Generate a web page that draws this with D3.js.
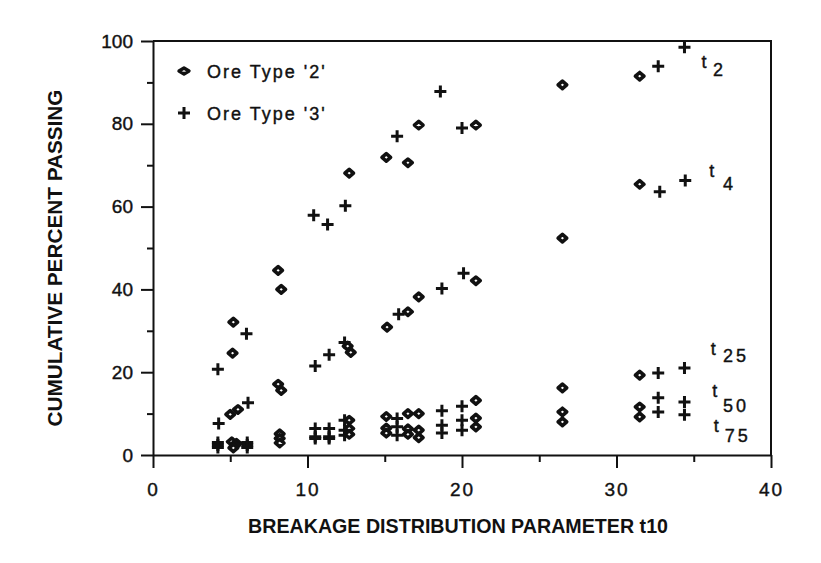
<!DOCTYPE html>
<html>
<head>
<meta charset="utf-8">
<script src="https://cdn.jsdelivr.net/npm/d3@7"></script>
<style>
  body { margin: 0; background: #fff; }
  svg { display: block; font-family: "Liberation Sans", Arial, Helvetica, sans-serif; }
  .axis path, .axis line { stroke: #111; stroke-width: 2; }
  .axis text { font-size: 19px; fill: #111; stroke: #111; stroke-width: 0.4; }
</style>
</head>
<body>
<div id="container"></div>
<script>
/* CONSTANTS AND GLOBALS */
const width = 821,
  height = 563,
  margin = {top: 41, bottom: 108, left: 153, right: 50};

/* DATA : [t10, cumulative % passing] */
// ore type '2' (diamonds)
const ore2_t2  = [[5.2,32.1],[5.15,24.6],[8.1,44.6],[8.3,40.0],[12.7,68.1],[15.1,71.9],[16.5,70.6],[17.2,79.7],[20.9,79.7],[26.5,89.4],[31.5,91.5]];
const ore2_t4  = [[5.5,11.0],[5.0,9.8],[8.1,17.1],[8.3,15.6],[12.6,26.3],[12.8,24.8],[15.15,30.9],[16.5,34.6],[17.2,38.2],[20.9,42.1],[26.5,52.4],[31.5,65.4]];
const ore2_t25 = [[5.1,3.2],[5.4,2.8],[8.2,5.1],[12.7,8.4],[15.1,9.3],[16.5,10.0],[17.2,10.0],[20.9,13.2],[26.5,16.2],[31.5,19.3]];
const ore2_t50 = [[5.3,2.3],[8.2,4.0],[12.7,6.4],[15.1,6.5],[16.5,6.3],[17.2,6.0],[20.9,8.9],[26.5,10.4],[31.5,11.6]];
const ore2_t75 = [[5.2,1.7],[8.2,2.9],[12.7,5.0],[15.1,5.3],[16.5,5.0],[17.2,4.2],[20.9,6.8],[26.5,8.0],[31.5,9.2]];

// ore type '3' (crosses)
const ore3_t2  = [[4.2,20.7],[6.05,29.3],[10.4,57.9],[11.3,55.7],[12.45,60.2],[15.8,77.0],[18.6,87.8],[20.0,79.0],[32.7,93.9],[34.4,98.5]];
const ore3_t4  = [[4.25,7.6],[6.15,12.6],[10.5,21.5],[11.4,24.2],[12.4,27.2],[15.9,34.0],[18.7,40.2],[20.1,43.9],[32.8,63.6],[34.45,66.3]];
const ore3_t25 = [[4.2,3.0],[6.1,3.0],[10.5,6.4],[11.4,6.4],[12.4,8.4],[15.8,8.8],[18.7,10.7],[20.0,11.8],[32.7,19.8],[34.4,21.0]];
const ore3_t50 = [[4.2,2.4],[6.1,2.4],[10.5,4.4],[11.4,4.4],[12.4,6.0],[15.8,6.8],[18.7,7.2],[20.0,8.4],[32.7,13.8],[34.4,12.8]];
const ore3_t75 = [[4.2,1.8],[6.1,1.8],[10.5,4.0],[11.4,4.0],[12.4,4.8],[15.8,4.8],[18.7,5.3],[20.0,6.0],[32.7,10.4],[34.4,9.7]];

const xTicks = [0, 10, 20, 30, 40];
const xMinor = [5, 15, 25, 35];
const yTicks = [0, 20, 40, 60, 80, 100];
const yMinor = [10, 30, 50, 70, 90];

const legendLabels = ["Ore Type '2'", "Ore Type '3'"];
// series tags drawn at the right of each curve: t position, number position (data units)
const seriesTags = [
  {num: "2",  t: [35.5, 93.5], n: [36.25, 91.5]},
  {num: "4",  t: [36.0, 67.1], n: [36.9, 64.0]},
  {num: "25", t: [36.1, 24.2], n: [36.9, 22.5]},
  {num: "50", t: [36.2, 14.0], n: [36.9, 10.4]},
  {num: "75", t: [36.3, 5.6],  n: [37.0, 3.1]}
];

const ore2 = [].concat(ore2_t2, ore2_t4, ore2_t25, ore2_t50, ore2_t75);
const ore3 = [].concat(ore3_t2, ore3_t4, ore3_t25, ore3_t50, ore3_t75);

/* SCALES */
const xScale = d3.scaleLinear()
  .domain([0, 40])
  .range([margin.left, width - margin.right]);

const yScale = d3.scaleLinear()
  .domain([0, 100])
  .range([height - margin.bottom, margin.top]);

const diamond = "M0,-3.7L4.3,0L0,3.7L-4.3,0Z";
const cross = "M-6,0H6M0,-6V6";

/* HTML ELEMENTS */
const svg = d3.select("#container")
  .append("svg")
  .attr("width", width)
  .attr("height", height);

// frame top + right
svg.append("path")
  .attr("d", `M${xScale(0)},${yScale(100)}H${xScale(40)}V${yScale(0)}`)
  .attr("fill", "none")
  .attr("stroke", "#111")
  .attr("stroke-width", 2);

// axes
svg.append("g")
  .attr("class", "axis")
  .attr("transform", `translate(0,${yScale(0)})`)
  .call(d3.axisBottom(xScale).tickValues(xTicks).tickSize(13).tickPadding(15).tickSizeOuter(0))
  .selectAll("text").attr("letter-spacing", "2px");

svg.append("g")
  .attr("class", "axis")
  .attr("transform", `translate(0,${yScale(0)})`)
  .call(d3.axisBottom(xScale).tickValues(xMinor).tickSize(7).tickFormat(""))
  .select(".domain").remove();

svg.append("g")
  .attr("class", "axis")
  .attr("transform", `translate(${xScale(0)},0)`)
  .call(d3.axisLeft(yScale).tickValues(yTicks).tickSize(12).tickPadding(8).tickSizeOuter(0));

svg.append("g")
  .attr("class", "axis")
  .attr("transform", `translate(${xScale(0)},0)`)
  .call(d3.axisLeft(yScale).tickValues(yMinor).tickSize(6).tickFormat(""))
  .select(".domain").remove();

// axis titles
svg.append("text")
  .attr("x", 458)
  .attr("y", 533)
  .attr("text-anchor", "middle")
  .attr("font-size", 20)
  .attr("font-weight", "bold")
  .attr("textLength", 420)
  .attr("lengthAdjust", "spacingAndGlyphs")
  .attr("fill", "#111")
  .text("BREAKAGE DISTRIBUTION PARAMETER t10");

svg.append("text")
  .attr("transform", "translate(62,258) rotate(-90)")
  .attr("text-anchor", "middle")
  .attr("font-size", 20)
  .attr("font-weight", "bold")
  .attr("textLength", 337)
  .attr("lengthAdjust", "spacingAndGlyphs")
  .attr("fill", "#111")
  .text("CUMULATIVE PERCENT PASSING");

// points
svg.selectAll(".ore3")
  .data(ore3)
  .join("path")
  .attr("class", "ore3")
  .attr("d", cross)
  .attr("transform", d => `translate(${xScale(d[0])},${yScale(d[1])})`)
  .attr("stroke", "#111")
  .attr("stroke-width", 3)
  .attr("fill", "none");

svg.selectAll(".ore2")
  .data(ore2)
  .join("path")
  .attr("class", "ore2")
  .attr("d", diamond)
  .attr("transform", d => `translate(${xScale(d[0])},${yScale(d[1])})`)
  .attr("stroke", "#111")
  .attr("stroke-width", 3.6)
  .attr("stroke-linejoin", "round")
  .attr("fill", "#fff");

// legend
const legend = svg.append("g").attr("transform", "translate(184,71)");
legend.append("path")
  .attr("d", "M0,-3L5,0L0,3L-5,0Z")
  .attr("stroke", "#111").attr("stroke-width", 3.4)
  .attr("stroke-linejoin", "round").attr("fill", "#fff");
legend.append("path")
  .attr("d", cross)
  .attr("transform", "translate(0,42)")
  .attr("stroke", "#111").attr("stroke-width", 3);
legend.selectAll("text")
  .data(legendLabels)
  .join("text")
  .attr("x", 23)
  .attr("y", (d, i) => i * 42 + 6.5)
  .attr("font-size", 18)
  .attr("letter-spacing", "2px")
  .attr("fill", "#111")
  .attr("stroke", "#111")
  .attr("stroke-width", 0.4)
  .text(d => d);

// series tags t2 ... t75
const tags = svg.selectAll(".tag")
  .data(seriesTags)
  .join("g")
  .attr("class", "tag")
  .attr("fill", "#111")
  .attr("stroke", "#111")
  .attr("stroke-width", 0.4);
tags.append("text")
  .attr("x", d => xScale(d.t[0]))
  .attr("y", d => yScale(d.t[1]))
  .attr("font-size", 18)
  .text("t");
tags.append("text")
  .attr("x", d => xScale(d.n[0]))
  .attr("y", d => yScale(d.n[1]))
  .attr("font-size", 18)
  .attr("letter-spacing", "3px")
  .text(d => d.num);
</script>
</body>
</html>
